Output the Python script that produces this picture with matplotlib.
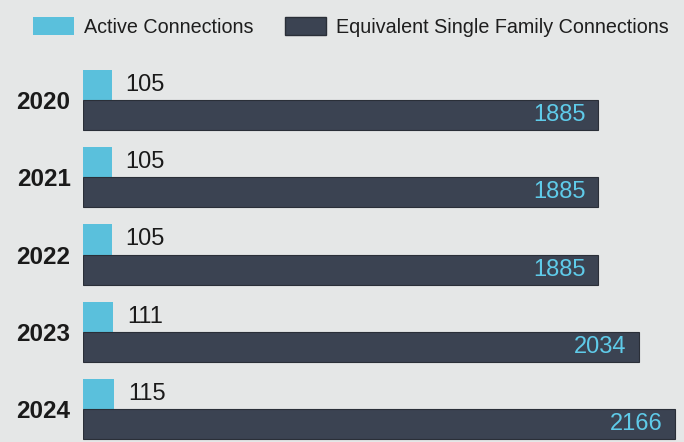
import matplotlib
matplotlib.use("Agg")
import matplotlib.pyplot as plt
from matplotlib.patches import Patch
import numpy as np

years = ["2020", "2021", "2022", "2023", "2024"]
active = [105, 105, 105, 111, 115]
equivalent = [1885, 1885, 1885, 2034, 2166]

bg = "#e5e7e7"
cyan = "#5ac0dc"
dark = "#3b4352"
cyan_txt = "#5fcbe9"

plt.rcParams['font.family'] = ['Liberation Sans', 'DejaVu Sans']

fig = plt.figure(figsize=(6.84, 4.42), dpi=100, facecolor=bg)
ax = fig.add_axes([83/684, 0, 1 - 83/684, (442-55)/442])
ax.set_facecolor(bg)

y = np.arange(len(years))
h = 0.39
ax.barh(y - h/2, active, height=h, color=cyan, edgecolor="none")
ax.barh(y + h/2, equivalent, height=h, color=dark, edgecolor="#2a2f38", linewidth=0.8)

for yi, a, e in zip(y, active, equivalent):
    ax.text(a + 50, yi - h/2, str(a), va="center", ha="left", fontsize=17, color="#1a1a1a")
    ax.text(e - 45, yi + h/2, str(e), va="center", ha="right", fontsize=17, color=cyan_txt)

ax.set_xlim(0, 2200)
ax.set_ylim(4.427, -0.583)
ax.set_yticks(y)
ax.set_yticklabels(years, fontsize=17.5, fontweight="bold", color="#1a1a1a")
ax.tick_params(axis="y", length=0, pad=9)
ax.set_xticks([])
for s in ax.spines.values():
    s.set_visible(False)

handles = [Patch(facecolor=cyan, edgecolor="none", label="Active Connections"),
           Patch(facecolor=dark, edgecolor="#2a2f38", label="Equivalent Single Family Connections")]
fig.legend(handles=handles, loc="center left", bbox_to_anchor=(33/684, 1 - 27/442),
           ncol=2, frameon=False, fontsize=14.2, handlelength=2.08, handleheight=0.97,
           handletextpad=0.5, columnspacing=1.6, borderaxespad=0, borderpad=0,
           labelcolor="#1e1e1e")

fig.savefig("out.png", dpi=100, facecolor=bg)
